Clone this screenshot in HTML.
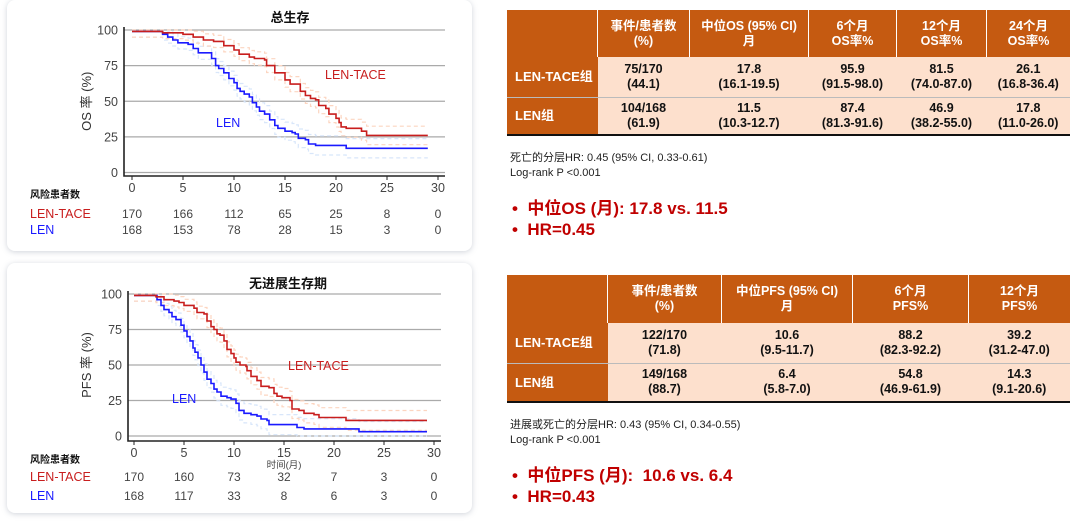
<!DOCTYPE html>
<html><head><meta charset="utf-8">
<style>
body{margin:0;width:1080px;height:528px;background:#fff;position:relative;overflow:hidden;font-family:"Liberation Sans","Noto Sans CJK SC",sans-serif;}
.card{position:absolute;background:#fff;border-radius:8px;box-shadow:0 1px 6px rgba(120,130,150,.35);}
svg{position:absolute;left:0;top:0;}
table{position:absolute;border-collapse:collapse;font-family:"Liberation Sans","Noto Sans CJK SC",sans-serif;font-weight:bold;font-size:12.5px;text-align:center;line-height:15px;}
th{background:#c55a11;color:#fff;border-left:1px solid #fff;padding:0;}
th:first-child{border-left:none}
td{background:#fde0cd;color:#111;padding:0;}
td.l{background:#c55a11;color:#fff;text-align:left;padding-left:8px;font-size:13px;}
tr.r1 td{border-bottom:1px solid #bbb}
tr.r2 td{border-bottom:2px solid #111}
.note{position:absolute;font-size:11px;color:#222;line-height:15px;}
.bul{position:absolute;font-size:17px;font-weight:bold;color:#c00000;line-height:21px;}
</style></head><body>
<div class="card" style="left:7px;top:0;width:465px;height:251px"></div>
<div class="card" style="left:7px;top:263px;width:465px;height:250px"></div>
<svg id="s" width="480" height="528" font-family="Liberation Sans, Noto Sans CJK SC, sans-serif"></svg>

<table style="left:507px;top:10px;width:563px;">
<tr style="height:47px"><th style="width:90px"></th><th style="width:91px">事件/患者数<br>(%)</th><th style="width:118px">中位OS (95% CI)<br>月</th><th style="width:87px">6个月<br>OS率%</th><th style="width:89px">12个月<br>OS率%</th><th>24个月<br>OS率%</th></tr>
<tr class="r1" style="height:40px"><td class="l">LEN-TACE组</td><td>75/170<br>(44.1)</td><td>17.8<br>(16.1-19.5)</td><td>95.9<br>(91.5-98.0)</td><td>81.5<br>(74.0-87.0)</td><td>26.1<br>(16.8-36.4)</td></tr>
<tr class="r2" style="height:38px"><td class="l">LEN组</td><td>104/168<br>(61.9)</td><td>11.5<br>(10.3-12.7)</td><td>87.4<br>(81.3-91.6)</td><td>46.9<br>(38.2-55.0)</td><td>17.8<br>(11.0-26.0)</td></tr>
</table>
<div class="note" style="left:510px;top:151px">死亡的分层HR: 0.45 (95% CI, 0.33-0.61)<br>Log-rank P &lt;0.001</div>
<div class="bul" style="left:512px;top:198px">•&nbsp;&nbsp;中位OS (月): 17.8 vs. 11.5<br>•&nbsp;&nbsp;HR=0.45</div>

<table style="left:507px;top:275px;width:563px;">
<tr style="height:48px"><th style="width:100px"></th><th style="width:113px">事件/患者数<br>(%)</th><th style="width:130px">中位PFS (95% CI)<br>月</th><th style="width:115px">6个月<br>PFS%</th><th>12个月<br>PFS%</th></tr>
<tr class="r1" style="height:40px"><td class="l">LEN-TACE组</td><td>122/170<br>(71.8)</td><td>10.6<br>(9.5-11.7)</td><td>88.2<br>(82.3-92.2)</td><td>39.2<br>(31.2-47.0)</td></tr>
<tr class="r2" style="height:39px"><td class="l">LEN组</td><td>149/168<br>(88.7)</td><td>6.4<br>(5.8-7.0)</td><td>54.8<br>(46.9-61.9)</td><td>14.3<br>(9.1-20.6)</td></tr>
</table>
<div class="note" style="left:510px;top:418px">进展或死亡的分层HR: 0.43 (95% CI, 0.34-0.55)<br>Log-rank P &lt;0.001</div>
<div class="bul" style="left:512px;top:465px">•&nbsp;&nbsp;中位PFS (月):&nbsp; 10.6 vs. 6.4<br>•&nbsp;&nbsp;HR=0.43</div>

<script>
var s=document.getElementById('s'),h='';
function chart(o){
 var X=function(m){return o.x0+o.dx*m},Y=function(p){return o.y0-o.dy*p};
 for(var p=0;p<=100;p+=25){h+='<line x1="'+o.ax+'" x2="'+(o.x0+o.dx*30+7)+'" y1="'+Y(p)+'" y2="'+Y(p)+'" stroke="#aaa" stroke-width="1.3"/>';
  h+='<text x="'+(o.ax-6)+'" y="'+(Y(p)+4.5)+'" font-size="12.5" fill="#444" text-anchor="end">'+p+'</text>';}
 h+='<path d="M'+o.ax+' '+(Y(100)-3)+' V'+o.by+' H'+(o.x0+o.dx*30+7)+'" stroke="#222" stroke-width="1.6" fill="none"/>';
 for(var m=0;m<=30;m+=5){h+='<line x1="'+X(m)+'" x2="'+X(m)+'" y1="'+o.by+'" y2="'+(o.by+4)+'" stroke="#222"/>';
  h+='<text x="'+X(m)+'" y="'+(o.by+16)+'" font-size="12.5" fill="#444" text-anchor="middle">'+m+'</text>';}
 function step(pts,dy,col,w,dash){var d='M'+X(pts[0][0])+' '+Y(Math.min(100,pts[0][1]+dy));
  for(var i=1;i<pts.length;i++){var v=Math.max(0,Math.min(100,pts[i][1]+dy*(1+(100-pts[i][1])/120)));d+=' H'+X(pts[i][0]).toFixed(1)+' V'+Y(v).toFixed(1);}
  h+='<path d="'+d+'" stroke="'+col+'" stroke-width="'+w+'" fill="none"'+(dash?' stroke-dasharray="4 3"':'')+'/>';}
 step(o.b,4,'#d8e6fa',1.2,1);step(o.b,-4,'#d8e6fa',1.2,1);
 step(o.r,4,'#fcd5c0',1.2,1);step(o.r,-4,'#fcd5c0',1.2,1);
 step(o.b,0,'#1a1aff',1.6);step(o.r,0,'#c81e1e',1.6);
 h+='<text x="'+o.tx+'" y="'+o.ty+'" font-size="13" font-weight="bold" text-anchor="middle" fill="#111">'+o.title+'</text>';
 h+='<text transform="translate('+o.yx+','+Y(50)+') rotate(-90)" font-size="13" fill="#333" text-anchor="middle">'+o.yl+'</text>';
 h+='<text x="'+o.rl[0]+'" y="'+o.rl[1]+'" font-size="12.5" fill="#c81e1e">LEN-TACE</text><text x="'+o.bl[0]+'" y="'+o.bl[1]+'" font-size="12.5" fill="#1a1aff">LEN</text>';
 h+='<text x="30" y="'+o.ry[0]+'" font-size="10" font-weight="bold" fill="#111">风险患者数</text>';
 h+='<text x="30" y="'+o.ry[1]+'" font-size="12.5" fill="#c81e1e">LEN-TACE</text><text x="30" y="'+o.ry[2]+'" font-size="12.5" fill="#1a1aff">LEN</text>';
 for(var i=0;i<7;i++){h+='<text x="'+X(i*5)+'" y="'+o.ry[1]+'" font-size="12" fill="#444" text-anchor="middle">'+o.nr[i]+'</text>';
  h+='<text x="'+X(i*5)+'" y="'+o.ry[2]+'" font-size="12" fill="#444" text-anchor="middle">'+o.nb[i]+'</text>';}
 if(o.xl)h+='<text x="'+X(15)+'" y="'+(o.by+27)+'" font-size="9.5" fill="#444" text-anchor="middle">时间(月)</text>';
}
chart({x0:132,dx:10.2,y0:172.5,dy:1.425,ax:124,by:176,tx:290,ty:22,title:'总生存',yx:91,yl:'OS 率 (%)',
rl:[325,79],bl:[216,127],ry:[198,218,234],nr:[170,166,112,65,25,8,0],nb:[168,153,78,28,15,3,0],
r:[[0,99],[2,99],[3,98],[5,97],[6,95],[7,93],[8,92],[9,89],[10,86],[10.5,83],[11.5,81],[12,80],[13,79],[13.2,75],[14,70],[15,65],[15.5,62],[16.5,57],[17,54],[17.5,52],[18,51],[18.3,47],[19,45],[19.3,41],[20,38],[20.3,35],[20.5,32],[21,31],[22,31],[22.5,29],[23,26],[29,26]],
b:[[0,99],[2.2,99],[3,97],[3.5,95],[4,93],[4.5,91],[5.5,90],[6,87],[6.5,84],[7.5,84],[7.8,80],[8.2,75],[8.5,73],[9,70],[9.5,66],[10,63],[10.3,59],[10.6,57],[11,55],[11.5,53],[11.8,49],[12.2,46],[12.5,43],[13,41],[13.5,37],[14,33],[14.3,31],[15,29],[15.7,28],[16,27],[16.3,24],[17,23],[17.3,20],[18,19],[21,19],[21,17],[29,17]]});
chart({x0:134,dx:10,y0:436,dy:1.42,ax:128,by:441,tx:288,ty:288,title:'无进展生存期',yx:91,yl:'PFS 率 (%)',xl:1,
rl:[288,370],bl:[172,403],ry:[463,481,500],nr:[170,160,73,32,7,3,0],nb:[168,117,33,8,6,3,0],
r:[[0,99],[2,99],[2.2,98],[3,96],[4,95],[4.5,94],[5,92],[6,90],[6.3,87],[7,86],[7.3,81],[7.7,77],[8,75],[8.3,72],[8.6,71],[9,67],[9.3,61],[9.7,58],[10,55],[10.2,52],[10.6,50],[11.2,49],[11.3,46],[11.7,42],[12.3,39],[12.7,35],[13.5,34],[14,30],[14.3,28],[14.8,27],[15.3,27],[15.6,25],[15.8,19],[16.5,18],[17,16],[18,15],[18.5,13],[21,13],[21.2,11],[29.3,11]],
b:[[0,99],[2,99],[2.3,96],[2.7,92],[3,89],[3.5,87],[3.8,84],[4.2,82],[4.7,78],[5,74],[5.3,70],[5.6,67],[5.9,62],[6.1,59],[6.4,55],[6.7,50],[7,45],[7.3,40],[7.7,37],[8,33],[8.3,31],[8.7,28],[9.3,27],[9.7,26],[10.2,23],[10.5,18],[11,16],[11.7,15],[12.3,14],[12.7,12],[13.3,11],[13.5,8],[16,8],[16.3,6],[17,5],[22,5],[22.5,3],[29.3,3]]});
s.innerHTML=h;
</script>
</body></html>
